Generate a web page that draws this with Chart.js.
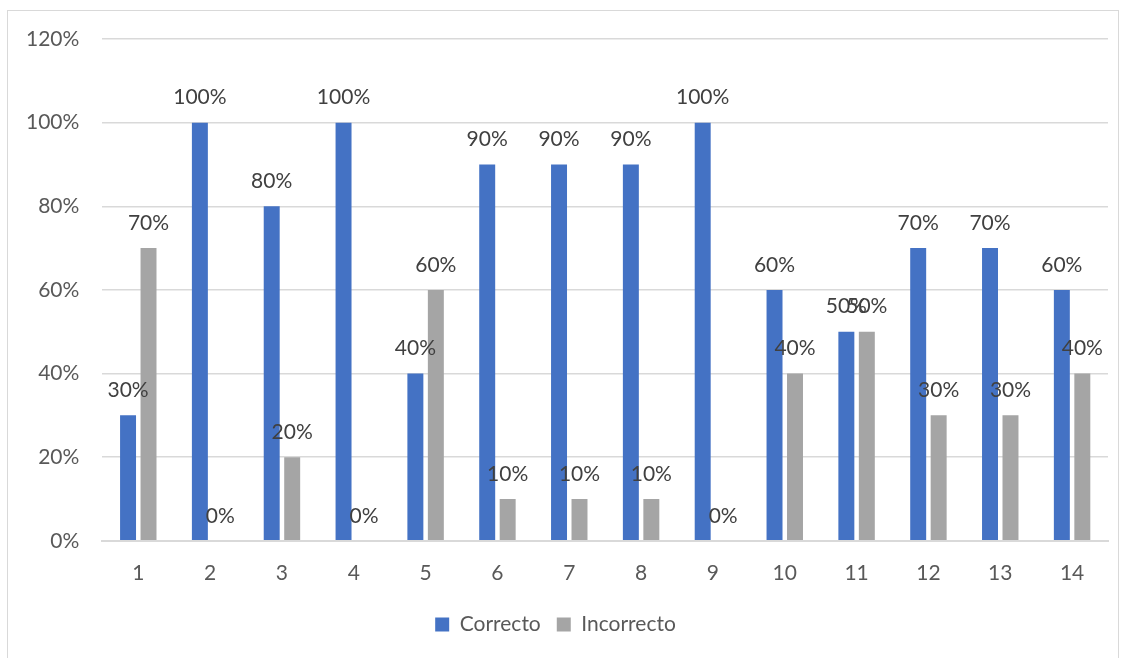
<!DOCTYPE html>
<html>
<head>
<meta charset="utf-8">
<script src="https://cdn.jsdelivr.net/npm/chart.js@4/dist/chart.umd.min.js"></script>
<style>
  html, body { margin: 0; padding: 0; background: #fff; }
  #frame {
    position: absolute; left: 7px; top: 10px; width: 1112px; height: 660px;
    border: 1px solid #d9d9d9; box-sizing: border-box;
  }
  #wrap { position: absolute; left: 0; top: 0; width: 1126px; height: 658px; }
</style>
</head>
<body>
<div id="frame"></div>
<div id="wrap"><canvas id="chart"></canvas></div>
<script>
const categories = ['1', '2', '3', '4', '5', '6', '7', '8', '9', '10', '11', '12', '13', '14'];
const correcto = [30, 100, 80, 100, 40, 90, 90, 90, 100, 60, 50, 70, 70, 60];
const incorrecto = [70, 0, 20, 0, 60, 10, 10, 10, 0, 40, 50, 30, 30, 40];

const FONT = 'Lato, "Open Sans", sans-serif';
const TEXT = '#595959';

// value labels above each bar
const barLabels = {
    id: 'barLabels',
    afterDatasetsDraw(chart) {
        const ctx = chart.ctx;
        ctx.save();
        ctx.font = '21px ' + FONT;
        ctx.fillStyle = '#404040';
        ctx.textAlign = 'center';
        ctx.textBaseline = 'middle';
        chart.data.datasets.forEach((ds, i) => {
            chart.getDatasetMeta(i).data.forEach((bar, j) => {
                ctx.fillText(ds.data[j] + '%', bar.x, bar.y - 25);
            });
        });
        ctx.restore();
    }
};

new Chart(document.getElementById('chart'), {
    type: 'bar',
    data: {
        labels: categories,
        datasets: [{
            label: 'Correcto',
            data: correcto,
            backgroundColor: '#4472C4',
            barPercentage: 0.78,
            categoryPercentage: 0.57
        }, {
            label: 'Incorrecto',
            data: incorrecto,
            backgroundColor: '#A5A5A5',
            barPercentage: 0.78,
            categoryPercentage: 0.57
        }]
    },
    options: {
        responsive: true,
        maintainAspectRatio: false,
        animation: false,
        layout: {
            padding: { left: 3, right: 18, top: 39, bottom: 13 }
        },
        scales: {
            x: {
                grid: { display: false },
                border: { color: '#d9d9d9', width: 2 },
                ticks: { color: TEXT, font: { family: FONT, size: 21 }, padding: 12 }
            },
            y: {
                min: 0,
                max: 120,
                border: { display: false },
                grid: { color: '#d9d9d9', lineWidth: 1.5, drawTicks: false },
                ticks: {
                    stepSize: 20,
                    color: TEXT,
                    padding: 23,
                    font: { family: FONT, size: 21 },
                    callback: function (value) {
                        return value + '%';
                    }
                }
            }
        },
        plugins: {
            legend: {
                position: 'bottom',
                labels: {
                    color: TEXT,
                    font: { family: FONT, size: 21 },
                    boxWidth: 14,
                    boxHeight: 14,
                    padding: 16
                }
            },
            tooltip: { enabled: false }
        }
    },
    plugins: [barLabels]
});
</script>
</body>
</html>
